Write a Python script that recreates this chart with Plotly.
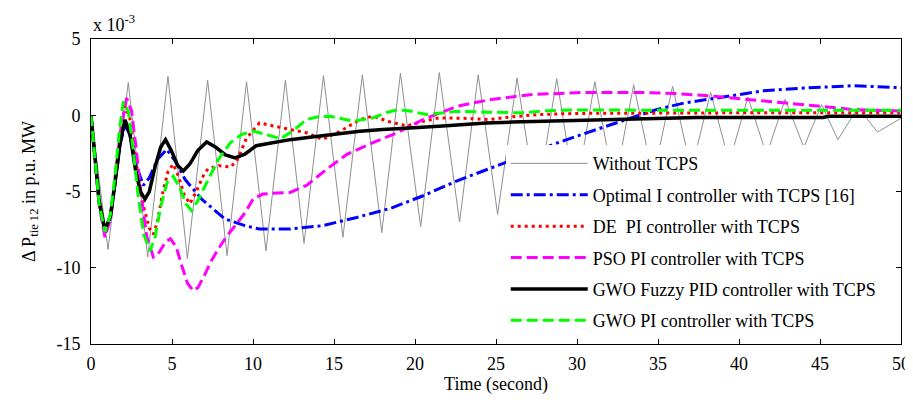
import plotly.graph_objects as go

# 시간 (second)
# Without TCPS - oscillating response (peaks / troughs)
t_wo = [0, 1.05, 2.3, 3.5, 4.75, 5.95, 7.2, 8.4, 9.6, 10.8, 12.0, 13.15, 14.35, 15.55,
        16.75, 17.95, 19.1, 20.35, 21.5, 22.75, 23.9, 25.1, 26.3, 27.5, 28.75, 29.9,
        31.1, 32.3, 33.5, 34.7, 35.9, 37.05, 38.25, 39.4, 40.55, 41.7, 42.85, 44.0,
        45.1, 46.1, 47.35, 48.55, 50]
v_wo = [0, -8.8, 2.15, -9.3, 2.55, -9.4, 2.3, -9.2, 2.2, -8.9, 2.3, -8.4, 2.6, -8.0,
        2.65, -7.7, 2.75, -7.3, 2.8, -7.0, 2.65, -6.5, 2.45, -5.9, 2.4, -5.3,
        2.2, -4.7, 2.0, -4.1, 1.9, -3.6, 1.5, -3.1, 1.2, -2.6, 1.05, -2.1,
        0.7, -1.6, 0.5, -1.1, -0.2]

# Optimal I controller with TCPS [16]
t_oi = [0, 0.25, 0.5, 0.86, 1.2, 1.5, 1.8, 2.1, 2.4, 2.8, 3.23, 3.6, 4.1, 4.67, 5.2,
        5.8, 6.83, 8.27, 9.5, 10.4, 12.3, 14.3, 16.4, 18.5, 20.5, 22.6, 25.0, 27.0,
        28.95, 31.8, 34.9, 36.6, 38.7, 41.5, 44.0, 47.1, 50]
v_oi = [0, -2.7, -5.7, -7.7, -6.7, -4.3, -1.9, -0.6, -1.3, -3.3, -4.6, -4.1, -2.9, -2.24, -3.0,
        -4.2, -5.5, -6.8, -7.24, -7.46, -7.46, -7.24, -6.7, -6.1, -5.28, -4.3, -3.33, -2.5,
        -1.75, -0.72, 0.37, 0.8, 1.15, 1.6, 1.78, 1.94, 1.8]

# DE PI controller with TCPS
t_de = [0, 0.25, 0.5, 0.86, 1.2, 1.5, 1.8, 2.1, 2.4, 2.7, 3.0, 3.3, 3.6, 3.85, 4.1, 4.4,
        4.75, 5.08, 5.4, 5.75, 6.1, 6.5, 7.0, 7.25, 7.9, 8.6, 9.0, 9.6, 10.4, 11.25, 12.3,
        13.3, 14.3, 15.4, 16.6, 17.4, 18.5, 19.5, 20.5, 21.5, 23.0, 24.6, 26.0, 27.7, 30,
        35, 40, 45, 50]
v_de = [0, -2.7, -5.7, -7.7, -6.6, -4.0, -1.2, 0.6, -0.2, -2.5, -4.6, -6.2, -7.4, -7.8, -7.0, -5.2,
        -3.7, -3.2, -4.0, -5.2, -5.8, -5.0, -3.8, -3.5, -3.3, -3.4, -3.0, -1.5, -0.5, -0.7, -0.93,
        -1.15, -1.58, -1.04, -0.28, -0.06, -0.45, -0.7, -0.4, -0.17, -0.2, -0.28, -0.1, 0.05, 0.12,
        0.16, 0.16, 0.16, 0.16]

# PSO PI controller with TCPS
t_pso = [0, 0.25, 0.5, 0.86, 1.2, 1.5, 1.8, 2.2, 2.5, 2.8, 3.1, 3.45, 3.85, 4.2, 4.6, 4.9,
         5.25, 5.6, 5.95, 6.3, 6.6, 7.0, 7.4, 7.86, 8.4, 8.9, 9.5, 10.0, 10.6, 11.5, 12.3,
         13.3, 14.55, 15.8, 17.4, 18.9, 20.5, 22.6, 24.6, 27.1, 30.4, 33.9, 36.0, 38.3,
         40.9, 42.9, 45.0, 47.1, 50]
v_pso = [0, -2.8, -5.9, -8.0, -6.8, -4.0, -1.2, 1.13, 0.3, -2.3, -5.3, -8.0, -9.3, -9.0, -8.3, -8.1,
         -8.6, -9.85, -11.0, -11.5, -11.3, -10.5, -9.6, -8.76, -7.9, -7.24, -6.4, -5.5, -5.17, -5.1, -5.06,
         -4.6, -3.54, -2.56, -1.8, -1.15, -0.28, 0.59, 1.02, 1.35, 1.5, 1.5, 1.42, 1.26,
         1.02, 0.8, 0.59, 0.37, 0.28]

# GWO Fuzzy PID controller with TCPS
t_fz = [0, 0.25, 0.5, 0.86, 1.2, 1.5, 1.8, 2.1, 2.4, 2.75, 3.05, 3.33, 3.6, 3.95, 4.3, 4.6,
        4.95, 5.35, 5.7, 6.1, 6.6, 7.14, 7.7, 8.3, 8.9, 9.5, 10.2, 11.2, 12.3, 13.5, 15.4,
        16.6, 18.0, 19.1, 20.2, 21.7, 23.0, 24.4, 26.0, 27.7, 29.5, 31.8, 34.8, 37.4, 41.0,
        45.2, 45.5, 50]
v_fz = [0, -2.6, -5.6, -7.55, -6.6, -4.3, -1.8, -0.3, -1.2, -3.6, -5.0, -5.5, -5.0, -3.4, -2.1, -1.6,
        -2.3, -3.3, -3.65, -3.2, -2.3, -1.75, -2.1, -2.6, -2.8, -2.55, -2.0, -1.8, -1.6, -1.45, -1.2,
        -1.05, -0.93, -0.88, -0.8, -0.7, -0.6, -0.5, -0.45, -0.4, -0.35, -0.28, -0.2, -0.15, -0.15,
        -0.15, -0.07, -0.07]

# GWO PI controller with TCPS
t_gp = [0, 0.25, 0.5, 0.86, 1.2, 1.5, 1.75, 2.0, 2.3, 2.6, 2.9, 3.25, 3.64, 3.95, 4.3, 4.7,
        5.08, 5.5, 5.85, 6.2, 6.6, 7.2, 7.86, 8.6, 9.3, 10.0, 10.8, 11.7, 12.5, 13.3, 14.0,
        14.75, 15.5, 16.2, 17.4, 18.3, 18.9, 19.6, 20.7, 21.6, 22.6, 24.5, 26.7, 28, 30, 35,
        40, 45, 50]
v_gp = [0, -2.8, -5.8, -7.65, -6.5, -3.8, -1.0, 0.9, 0.3, -2.2, -5.2, -7.8, -8.9, -8.0, -6.0, -4.4,
        -4.0, -4.8, -5.8, -6.25, -5.6, -4.3, -2.9, -1.8, -1.26, -1.04, -1.25, -1.54, -1.0, -0.28, -0.1,
        -0.06, -0.25, -0.39, -0.17, 0.2, 0.35, 0.3, 0.05, 0.15, 0.26, 0.2, 0.16, 0.3, 0.35, 0.33,
        0.33, 0.33, 0.33]

x_ticks = [0, 5, 10, 15, 20, 25, 30, 35, 40, 45, 50]
x_labels = ["0", "5", "10", "15", "20", "25", "30", "35", "40", "45", "50"]
y_ticks = [-15, -10, -5, 0, 5]
y_labels = ["-15", "-10", "-5", "0", "5"]

FONT = "Times New Roman, Liberation Serif, serif"

series = [
    ("Without TCPS", t_wo, v_wo, dict(color="#8f8f8f", width=1)),
    ("Optimal I controller with TCPS [16]", t_oi, v_oi, dict(color="#0000ff", width=3, dash="12px,4px,3px,4px")),
    ("DE  PI controller with TCPS", t_de, v_de, dict(color="#ff0000", width=3, dash="3px,4px")),
    ("PSO PI controller with TCPS", t_pso, v_pso, dict(color="#ff00ff", width=3, dash="11px,5px")),
    ("GWO Fuzzy PID controller with TCPS", t_fz, v_fz, dict(color="#000000", width=3.5)),
    ("GWO PI controller with TCPS", t_gp, v_gp, dict(color="#00ff00", width=3, dash="11px,5px")),
]

fig = go.Figure()
for i, (name, xs, ys, ln) in enumerate(series):
    fig.add_trace(go.Scatter(x=xs, y=ys, mode="lines", name=name, line=ln,
                             legendgroup="g%d" % i))

axis_common = dict(showline=True, linecolor="black", linewidth=1, mirror="ticks",
                   ticks="inside", ticklen=5, tickcolor="black", showgrid=False,
                   zeroline=False, automargin=False,
                   tickfont=dict(family=FONT, size=18, color="black"))

fig.update_xaxes(range=[0, 50], tickvals=x_ticks, ticktext=x_labels, ticklabelstandoff=3,
                 title=dict(text="Time (second)", font=dict(family=FONT, size=18, color="black"),
                            standoff=2),
                 **axis_common)
fig.update_yaxes(range=[-15, 5], tickvals=y_ticks, ticktext=y_labels, ticklabelstandoff=6,
                 title=dict(text="Δ P<sub>tie 12</sub> in p.u. MW",
                            font=dict(family=FONT, size=18, color="black"), standoff=16),
                 **axis_common)

fig.add_annotation(text="x 10<sup>-3</sup>", xref="paper", yref="paper", x=0.0, y=1.0,
                   xanchor="left", yanchor="bottom", yshift=2, showarrow=False,
                   font=dict(family=FONT, size=18, color="black"))

# page body has an 8px margin, so the figure is 8px smaller than the window
fig.update_layout(
    width=905, height=397,
    margin=dict(l=83, r=12, t=31, b=61),
    plot_bgcolor="white", paper_bgcolor="white",
    font=dict(family=FONT, size=18, color="black"),
    legend=dict(x=0.512, y=0.652, xanchor="left", yanchor="top",
                bgcolor="white", borderwidth=0, itemwidth=77,
                traceorder="grouped", tracegroupgap=5,
                font=dict(family=FONT, size=18, color="black")),
)

fig.write_html("out.html")
